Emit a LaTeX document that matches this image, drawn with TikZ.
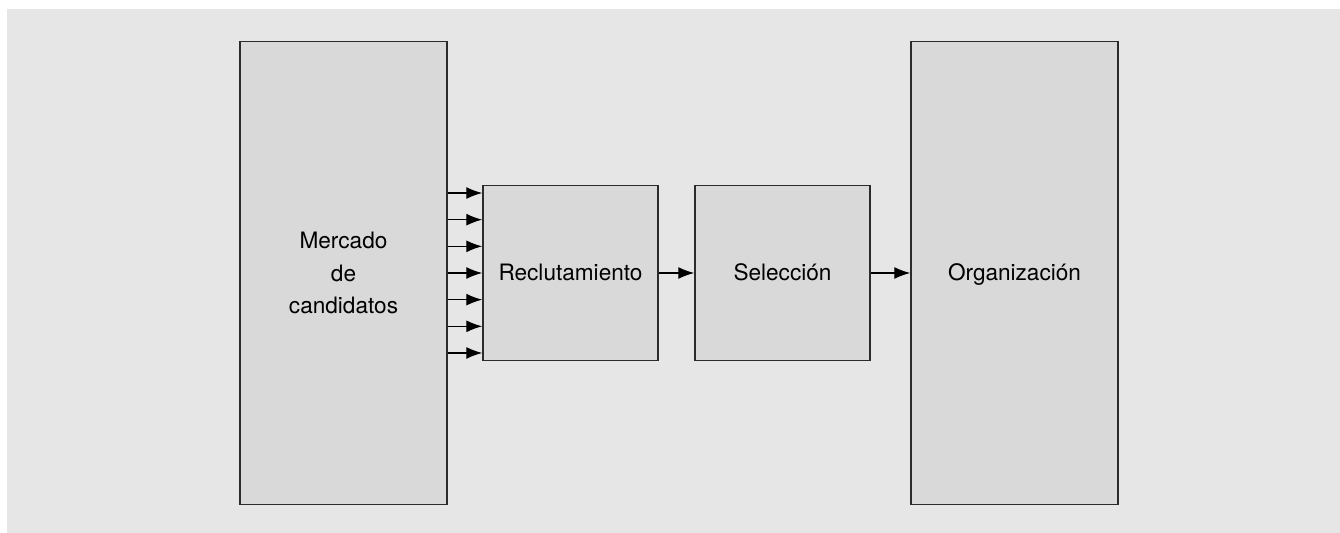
\documentclass[tikz,border=0pt]{standalone}
\usepackage{fontspec}
\setmainfont{TeX Gyre Heros}
\usepackage{tikz}
\usetikzlibrary{arrows.meta, positioning}
\definecolor{procback}{HTML}{E6E6E6}
\definecolor{procfill}{HTML}{D9D9D9}
\definecolor{procink}{HTML}{2B2B2B}

\begin{document}
\begin{tikzpicture}[
        x=0.5pt, y=-0.5pt,
        tall/.style={
            rectangle,
            draw=procink,
            line width=0.75pt,
            fill=procfill,
            align=center,
            font=\fontsize{11.3}{16.3}\selectfont,
            minimum width=103.5pt,
            minimum height=231.5pt
        },
        stage/.style={
            rectangle,
            draw=procink,
            line width=0.75pt,
            fill=procfill,
            align=center,
            font=\fontsize{11.3}{16}\selectfont,
            text height=9pt,
            text depth=1pt,
            minimum width=87.5pt,
            minimum height=87.5pt
        },
        arrow/.style={-{Latex[length=8pt, width=6pt]}, line width=0.6pt, draw=black}
    ]
        \useasboundingbox (0,0) rectangle (1340,533);
        \fill[procback] (7,9) rectangle (1340,533);

        \node[tall] (merc) at (343.5,273) {Mercado\\de\\candidatos};
        \node[stage, right=17.25pt of merc] (recl) {Reclutamiento};
        \node[stage, right=17.75pt of recl] (sel) {Selección};
        \node[tall, right=19.75pt of sel, text height=9pt, text depth=1pt] (org) {Organización};

        \foreach \k in {-3,...,3}
            \draw[arrow] ([yshift=\k*13.33pt]merc.east |- recl.west) -- ([yshift=\k*13.33pt]recl.west);
        \draw[arrow] (recl) -- (sel);
        \draw[arrow] (sel) -- (org);
    \end{tikzpicture}
\end{document}
